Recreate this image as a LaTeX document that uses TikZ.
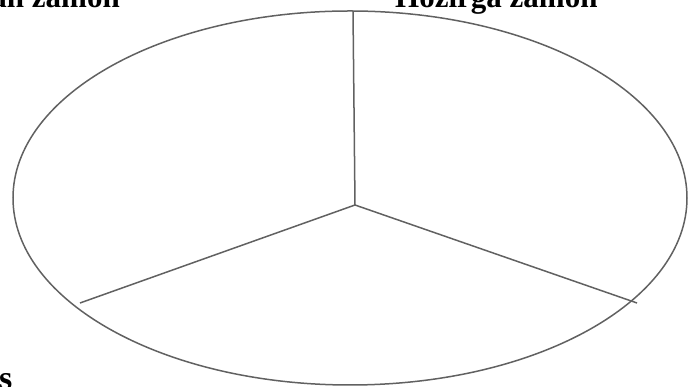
\documentclass[tikz,border=0pt]{standalone}
\usepackage{fontspec}
\setmainfont{Liberation Serif}
\begin{document}
\begin{tikzpicture}[x=1pt,y=1pt,
  rim/.style={draw=black!62,line width=1.5pt},
  spoke/.style={draw=black!62,line width=1.5pt},
  lbl/.style={inner sep=0pt,font=\fontsize{31}{31}\selectfont\bfseries}]
\useasboundingbox (0,0) rectangle (689,387);
\clip (0,0) rectangle (689,387);
\draw[rim] (350,189) ellipse [x radius=337, y radius=187];
\coordinate (c) at (355,182);
\coordinate (t) at (353,376);
\coordinate (l) at (80,84);
\coordinate (r) at (637,84);
\draw[spoke] (c) -- (t);
\draw[spoke] (c) -- (l);
\draw[spoke] (c) -- (r);
\node[lbl,anchor=base east] (past) at (120,379) {O‘tgan zamon};
\node[lbl,anchor=base west] (pres) at (395,379) {Hozirga zamon};
\node[lbl,anchor=base west,font=\fontsize{34}{34}\selectfont\bfseries] (fut) at (-1,-3) {s};
\end{tikzpicture}
\end{document}
